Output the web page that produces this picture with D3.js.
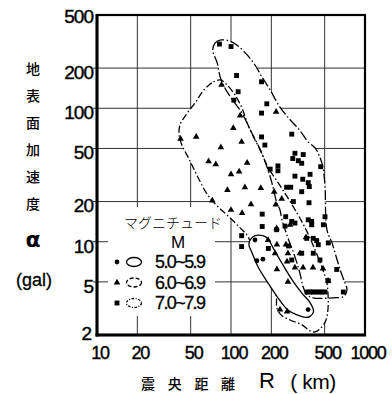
<!DOCTYPE html>
<html>
<head>
<meta charset="utf-8">
<script src="https://cdn.jsdelivr.net/npm/d3@7"></script>
<style>
body { margin: 0; background: #fff; }
svg { display: block; }
</style>
</head>
<body>
<script>
// axis ticks (distance R in km, acceleration alpha in gal)
const xTicks = [10, 20, 50, 100, 200, 500, 1000];
const yTicks = [2, 5, 10, 20, 50, 100, 200, 500];
const yTitle = ["地", "表", "面", "加", "速", "度"];
const xTitle = ["震", "央", "距", "離"];
const legendTitle = "マグニチュード";
const legendRows = ["5.0~5.9", "6.0~6.9", "7.0~7.9"];

// observations [R km, alpha gal]
const m5Points = [[151, 10.3], [156, 7.2], [173, 7.4], [376, 3.1]];

const m6Points = [
    [42, 59], [55, 61], [104, 71], [120, 56], [84, 51], [68, 40], [77, 38], [132, 39],
    [115, 33.5], [100, 32], [94, 24.4], [127, 25.6], [167, 25.2], [72.5, 20.3], [100, 17.3],
    [121, 16.4], [141, 19.1], [210, 23.7], [85, 150], [117, 88], [217, 94], [239, 21],
    [216, 19], [219, 12.6], [189, 10.3], [220, 9.5], [257, 9.5], [213, 8.2], [266, 8.2],
    [327, 8.2], [262, 7.1], [300, 6.4], [345, 6.4], [409, 6.4], [486, 6.3], [220, 6.2],
    [266, 5.0], [530, 5.1], [363, 10.8], [232, 3.1], [262, 3.0], [276, 13.4]
];

const m7Points = [
    [82, 303], [100, 290], [110, 176], [169, 158], [113, 133], [105, 115], [185, 108], [169, 92],
    [284, 64], [169, 61], [179, 53], [300, 46], [346, 45], [289, 42], [318, 40.5], [337, 38.7],
    [467, 36.5], [196, 35], [224, 37], [224, 34], [300, 31], [389, 32], [343, 29.4], [377, 27.7],
    [260, 25.6], [279, 25.6], [384, 25.9], [337, 23.7], [292, 20], [382, 19.6], [171, 16.1],
    [256, 15.4], [284, 14.2], [300, 13.8], [377, 14.6], [400, 14.2], [503, 15.4], [400, 13.4],
    [171, 13.0], [253, 13.1], [489, 13.4], [219, 12.3], [120, 11.1], [367, 10.6], [411, 10.6],
    [436, 10.2], [532, 9.8], [448, 9.5], [120, 9.2], [190, 8.9], [268, 9.3], [337, 8.2],
    [411, 8.2], [284, 7.3], [461, 7.3], [615, 6.2], [532, 5.1],
    [369, 4.2], [389, 4.2], [409, 4.2], [431, 4.2], [454, 4.2], [478, 4.2], [503, 4.2], [689, 4.2]
];

// envelopes drawn round each magnitude group
const m5Zone = [
    [139, 10.3], [151, 11.1], [173, 11.1], [189, 10.5], [206, 9.0], [240, 6.9], [285, 5.2],
    [339, 4.1], [389, 3.5], [413, 3.0], [389, 2.76], [357, 2.71], [311, 2.83], [266, 3.08],
    [224, 3.8], [189, 4.9], [159, 6.5], [144, 8.2], [136, 9.5]
];

const m6Zone = [
    [83, 163], [72, 155], [62, 135], [54, 110], [46, 89], [41.6, 75], [41, 63], [43, 53],
    [49, 41], [57, 30], [67, 22.4], [79, 18.5], [95, 15.6], [117, 12.7], [134, 10.9],
    [159, 7.1], [196, 4.9], [217, 4.0], [220, 3.2], [236, 2.83], [276, 2.59], [339, 2.38],
    [389, 2.15], [424, 2.11], [470, 2.26], [512, 2.59], [530, 3.19], [530, 4.0], [520, 4.9],
    [478, 6.4], [424, 8.7], [369, 11.9], [311, 16.4], [244, 24.4], [213, 30], [189, 36],
    [165, 49], [151, 58], [134, 75], [121, 100], [107, 126], [92, 152]
];

const m7Zone = [
    [73, 274], [76, 308], [84, 325], [98, 319], [113, 293], [132, 251], [151, 211], [170, 172],
    [196, 137], [232, 102], [276, 82], [327, 68], [376, 56], [424, 50.5], [461, 43], [486, 36],
    [503, 26], [520, 12.3], [567, 9.8], [651, 6.2], [709, 4.9], [734, 4.4], [697, 3.9],
    [577, 3.8], [409, 3.8], [369, 4.0], [345, 4.6], [327, 5.8], [300, 7.7], [266, 10.7],
    [240, 14.6], [232, 17.3], [220, 19.5], [202, 27.6], [189, 34.5], [165, 49], [139, 69],
    [121, 92], [103, 115], [90, 142], [83, 172], [79, 218]
];

const width = 392;
const height = 394;
const plotLeft = 97, plotTop = 15, plotRight = 365, plotBottom = 335;
const numFont = "'Liberation Sans', Arial, sans-serif";
const jpFont = "'Noto Sans CJK JP', sans-serif";

const svg = d3.select("body").append("svg")
    .attr("width", width)
    .attr("height", height);

const x = d3.scaleLog().domain([10, 1000]).range([plotLeft, plotRight]);
const y = d3.scaleLog().domain([2, 500]).range([plotBottom, plotTop]);

// grid
svg.append("g").selectAll("line")
    .data(xTicks.slice(1, -1))
    .join("line")
    .attr("x1", d => x(d)).attr("x2", d => x(d))
    .attr("y1", plotTop).attr("y2", plotBottom)
    .attr("stroke", "#333").attr("stroke-width", 1);

svg.append("g").selectAll("line")
    .data(yTicks.slice(1, -1))
    .join("line")
    .attr("x1", plotLeft - 4).attr("x2", plotRight)
    .attr("y1", d => y(d)).attr("y2", d => y(d))
    .attr("stroke", "#333").attr("stroke-width", 1);

// envelopes
const zone = d3.line()
    .x(d => x(d[0]))
    .y(d => y(d[1]))
    .curve(d3.curveCatmullRomClosed.alpha(0.5));

const zones = [
    { data: m7Zone, dash: "10,2.5,1.5,2.5" },
    { data: m6Zone, dash: "7,2.5,1.5,2.5" }
];

svg.append("g").selectAll("path")
    .data(zones)
    .join("path")
    .attr("d", d => zone(d.data))
    .attr("fill", "#fff");

svg.append("g").selectAll("path")
    .data(zones)
    .join("path")
    .attr("d", d => zone(d.data))
    .attr("fill", "none")
    .attr("stroke", "#000")
    .attr("stroke-width", 1.3)
    .attr("stroke-dasharray", d => d.dash);

svg.append("path")
    .attr("d", zone(m5Zone))
    .attr("fill", "#fff")
    .attr("stroke", "#000")
    .attr("stroke-width", 1.3);

// legend box hides the grid
svg.append("rect")
    .attr("x", 108).attr("y", 207)
    .attr("width", 107).attr("height", 109)
    .attr("fill", "#fff");

// points
const tri = d3.symbol().type(d3.symbolTriangle).size(19);
const sq = d3.symbol().type(d3.symbolSquare).size(24);

svg.append("g").selectAll("path")
    .data(m7Points)
    .join("path")
    .attr("d", sq)
    .attr("transform", d => `translate(${x(d[0])},${y(d[1])})`)
    .attr("fill", "#000");

svg.append("g").selectAll("path")
    .data(m6Points)
    .join("path")
    .attr("d", tri)
    .attr("transform", d => `translate(${x(d[0])},${y(d[1])})`)
    .attr("fill", "#000");

svg.append("g").selectAll("circle")
    .data(m5Points)
    .join("circle")
    .attr("cx", d => x(d[0]))
    .attr("cy", d => y(d[1]))
    .attr("r", 2.4)
    .attr("fill", "#000");

// frame
svg.append("rect")
    .attr("x", plotLeft).attr("y", plotTop)
    .attr("width", plotRight - plotLeft).attr("height", plotBottom - plotTop)
    .attr("fill", "none").attr("stroke", "#000").attr("stroke-width", 2.2);
svg.append("line")
    .attr("x1", plotLeft).attr("x2", plotLeft).attr("y1", plotTop - 1).attr("y2", plotBottom + 1.5)
    .attr("stroke", "#000").attr("stroke-width", 3);
svg.append("line")
    .attr("x1", plotLeft - 1.5).attr("x2", plotRight + 1).attr("y1", plotBottom).attr("y2", plotBottom)
    .attr("stroke", "#000").attr("stroke-width", 3);

// tick labels
const yShift = d => d === 2 ? -2 : d === 500 ? 1.5 : 4;
svg.append("g").selectAll("text")
    .data(yTicks)
    .join("text")
    .attr("x", d => d === 2 ? 91 : 93)
    .attr("y", d => y(d) + yShift(d))
    .attr("dy", "0.36em")
    .attr("text-anchor", "end")
    .style("font-family", numFont)
    .style("font-size", "19px")
    .style("letter-spacing", "-1px")
    .style("stroke", "#000")
    .style("stroke-width", 0.4)
    .text(d => d);

svg.append("g").selectAll("text")
    .data(xTicks)
    .join("text")
    .attr("x", d => x(d) + 3)
    .attr("y", 353)
    .attr("dy", "0.36em")
    .attr("text-anchor", "middle")
    .style("font-family", numFont)
    .style("font-size", "18px")
    .style("letter-spacing", "-1.2px")
    .style("stroke", "#000")
    .style("stroke-width", 0.4)
    .text(d => d);

// axis titles
svg.append("g").selectAll("text")
    .data(yTitle)
    .join("text")
    .attr("x", 33)
    .attr("y", (d, i) => 69 + i * 27)
    .attr("dy", "0.36em")
    .attr("text-anchor", "middle")
    .style("font-family", jpFont)
    .style("font-size", "14px")
    .style("font-weight", 500)
    .text(d => d);

svg.append("text")
    .attr("x", 33).attr("y", 240).attr("dy", "0.3em")
    .attr("text-anchor", "middle")
    .style("font-family", "'DejaVu Sans', sans-serif")
    .style("font-weight", "bold")
    .style("font-size", "22px")
    .text("α");

svg.append("text")
    .attr("x", 34).attr("y", 280).attr("dy", "0.36em")
    .attr("text-anchor", "middle")
    .style("font-family", numFont)
    .style("font-size", "18px")
    .style("stroke", "#000")
    .style("stroke-width", 0.3)
    .text("(gal)");

svg.append("g").selectAll("text")
    .data(xTitle)
    .join("text")
    .attr("x", (d, i) => 148 + i * 26.7)
    .attr("y", 384)
    .attr("dy", "0.36em")
    .attr("text-anchor", "middle")
    .style("font-family", jpFont)
    .style("font-size", "14px")
    .style("font-weight", 500)
    .text(d => d);

svg.append("text")
    .attr("x", 267).attr("y", 380).attr("dy", "0.36em")
    .attr("text-anchor", "middle")
    .style("font-family", numFont)
    .style("font-size", "22px")
    .text("R");

svg.append("text")
    .attr("x", 313).attr("y", 381).attr("dy", "0.36em")
    .attr("text-anchor", "middle")
    .style("font-family", numFont)
    .style("font-size", "21px")
    .style("letter-spacing", "-0.5px")
    .text("( km)");

// legend
svg.append("text")
    .attr("x", 173).attr("y", 223).attr("dy", "0.36em")
    .attr("text-anchor", "middle")
    .style("font-family", jpFont)
    .style("font-size", "14px")
    .style("font-weight", 300)
    .text(legendTitle);

svg.append("text")
    .attr("x", 178).attr("y", 242).attr("dy", "0.36em")
    .attr("text-anchor", "middle")
    .style("font-family", numFont)
    .style("font-size", "17px")
    .text("M");

const legend = svg.append("g").selectAll("g")
    .data(legendRows)
    .join("g")
    .attr("transform", (d, i) => `translate(0,${262 + i * 20.5})`);

legend.append("path")
    .attr("d", (d, i) => i === 0 ? d3.symbol().type(d3.symbolCircle).size(18)()
        : i === 1 ? tri() : sq())
    .attr("transform", "translate(117,0)")
    .attr("fill", "#000");

legend.append("ellipse")
    .attr("cx", 134).attr("cy", 0)
    .attr("rx", 7.5).attr("ry", 4.5)
    .attr("fill", "none")
    .attr("stroke", "#000")
    .attr("stroke-width", 1.3)
    .attr("stroke-dasharray", (d, i) => i === 0 ? null : i === 1 ? "4,2" : "2.5,1.5,1,1.5");

legend.append("text")
    .attr("x", 155).attr("y", 0).attr("dy", "0.36em")
    .style("font-family", numFont)
    .style("font-size", "18px")
    .style("letter-spacing", "-1.6px")
    .style("stroke", "#000")
    .style("stroke-width", 0.3)
    .text(d => d);
</script>
</body>
</html>
